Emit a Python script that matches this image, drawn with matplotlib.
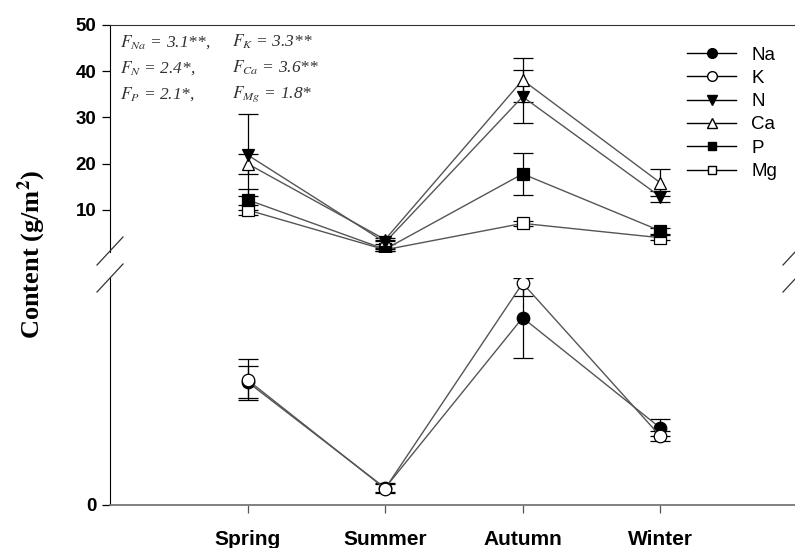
import numpy as np
import matplotlib.pyplot as plt
from matplotlib.lines import Line2D

plt.rcParams['mathtext.fontset'] = 'stix'

seasons = ['Spring', 'Summer', 'Autumn', 'Winter']
x = [1, 2, 3, 4]

# upper panel (g/m2)
N = [21.9, 3.0, 34.5, 12.9]
N_err = [8.8, 0.4, 5.8, 1.1]
Ca = [20.0, 3.6, 38.1, 15.9]
Ca_err = [2.2, 0.4, 4.7, 2.9]
P = [12.2, 1.5, 17.8, 5.5]
P_err = [2.3, 0.3, 4.6, 0.6]
Mg = [10.0, 1.4, 7.1, 4.0]
Mg_err = [1.1, 0.2, 0.5, 0.5]

# lower panel (small scale, only 0 labelled)
Na = [0.542, 0.075, 0.825, 0.34]
Na_err = [0.07, 0.02, 0.176, 0.037]
K = [0.551, 0.072, 0.977, 0.304]
K_err = [0.09, 0.02, 0.057, 0.022]

fig = plt.figure(figsize=(7.95, 5.48), dpi=100)
ax_top = fig.add_axes([0.1384, 0.5409, 0.8650, 0.4135])
ax_bot = fig.add_axes([0.1384, 0.0785, 0.8650, 0.4142])

line_c = '#555555'
ytick_font = dict(family='Liberation Sans', weight='bold', size=13.5)
xtick_font = dict(family='Liberation Sans', weight='bold', size=15)


def series(ax, y, err, marker, face, ms):
    ax.errorbar(x, y, yerr=err, fmt='none', ecolor='black', elinewidth=0.9,
                capsize=7, capthick=0.9, zorder=2)
    ax.plot(x, y, color=line_c, lw=1.0, marker=marker, ms=ms,
            mfc=face, mec='black', mew=0.9, zorder=3)


series(ax_top, Mg, Mg_err, 's', 'white', 8)
series(ax_top, P, P_err, 's', 'black', 8)
series(ax_top, Ca, Ca_err, '^', 'white', 9)
series(ax_top, N, N_err, 'v', 'black', 9)
series(ax_bot, Na, Na_err, 'o', 'black', 9)
series(ax_bot, K, K_err, 'o', 'white', 9)

ax_top.set_xlim(0, 5)
ax_bot.set_xlim(0, 5)
ax_top.set_ylim(1, 50)
ax_bot.set_ylim(0, 1.0)

ax_top.spines['bottom'].set_visible(False)
ax_top.spines['right'].set_visible(False)
ax_top.spines['top'].set_color('#333333')
ax_bot.spines['top'].set_visible(False)
ax_bot.spines['right'].set_visible(False)
ax_bot.spines['bottom'].set_color('#777777')
ax_bot.spines['bottom'].set_linewidth(1.3)

ax_top.set_xticks([])
ax_top.set_yticks([10, 20, 30, 40, 50])
ax_top.set_yticklabels(['10', '20', '30', '40', '50'], **ytick_font)
ax_top.tick_params(axis='y', length=6, width=0.9, pad=4)

ax_bot.set_yticks([0])
ax_bot.set_yticklabels(['0'], **ytick_font)
ax_bot.tick_params(axis='y', length=6, width=0.9, pad=4)
ax_bot.set_xticks(x)
ax_bot.set_xticklabels(seasons, **xtick_font)
ax_bot.tick_params(axis='x', length=6, width=0.9, color='#555555', pad=12)

fig.text(0.040, 0.535, r'Content (g/m$^\mathbf{2}$)', rotation=90, ha='center',
         va='center', family='Liberation Serif', weight='bold', size=19)

# F statistics
ann = dict(family='Liberation Serif', style='italic', size=12.5, color='#333333',
           transform=ax_top.transAxes)
rows = [(r'$F_{Na}$ = 3.1**,', r'$F_{K}$ = 3.3**'),
        (r'$F_{N}$ = 2.4*,', r'$F_{Ca}$ = 3.6**'),
        (r'$F_{P}$ = 2.1*,', r'$F_{Mg}$ = 1.8*')]
for i, (a, b) in enumerate(rows):
    yy = 0.925 - i * 0.115
    ax_top.text(0.015, yy, a, va='center', **ann)
    ax_top.text(0.178, yy, b, va='center', **ann)

# legend
handles = [Line2D([], [], color='black', lw=1, marker='o', ms=7, mfc='black', mec='black'),
           Line2D([], [], color='black', lw=1, marker='o', ms=7, mfc='white', mec='black'),
           Line2D([], [], color='black', lw=1, marker='v', ms=7, mfc='black', mec='black'),
           Line2D([], [], color='black', lw=1, marker='^', ms=7, mfc='white', mec='black'),
           Line2D([], [], color='black', lw=1, marker='s', ms=6, mfc='black', mec='black'),
           Line2D([], [], color='black', lw=1, marker='s', ms=6, mfc='white', mec='black')]
ax_top.legend(handles, ['Na', 'K', 'N', 'Ca', 'P', 'Mg'], loc='upper left',
              bbox_to_anchor=(0.815, 0.98), frameon=False, handlelength=2.6,
              labelspacing=0.33, handletextpad=0.8,
              prop=dict(family='Liberation Sans', size=13.5))

# axis break marks
kw = dict(color='#333333', lw=0.9, transform=fig.transFigure, clip_on=False)
for x0 in (97 / 795, 783 / 795):
    for yb in (265, 292):
        fig.add_artist(Line2D([x0, x0 + 26 / 795], [1 - yb / 548, 1 - (yb - 28) / 548], **kw))

plt.savefig('out.png', dpi=100)
